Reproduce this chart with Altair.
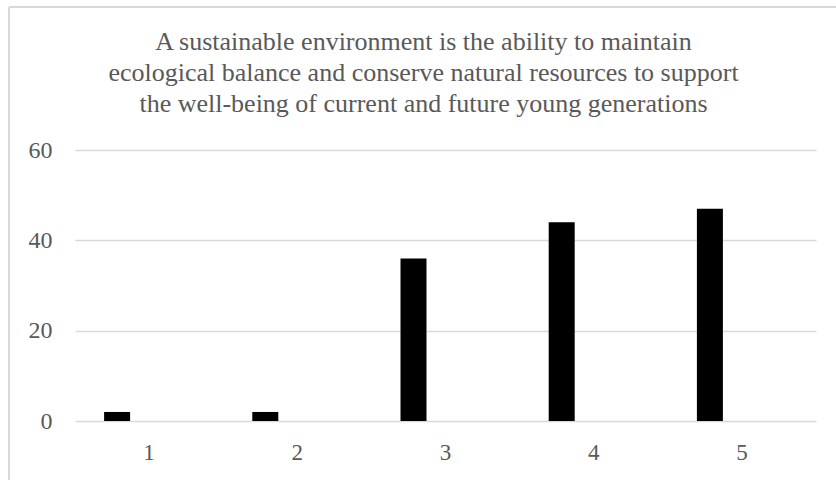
import altair as alt
import pandas as pd

categories = ["1", "2", "3", "4", "5"]
values = [2, 2, 36, 44, 47]

title_lines = [
    "A sustainable environment is the ability to maintain",
    "ecological balance and conserve natural resources to support",
    "the well-being of current and future young generations",
]

df = pd.DataFrame({"category": categories, "value": values})

FONT = "Liberation Serif"
GRAY = "#595959"
GRID = "#d9d9d9"

bars = alt.Chart(df).mark_bar(color="black", width=26, xOffset=-32).encode(
    x=alt.X("category:N", sort=categories, title=None,
            scale=alt.Scale(paddingInner=0, paddingOuter=0),
            axis=alt.Axis(labelAngle=0, domain=False, ticks=False, grid=False,
                          labelPadding=20, labelFont=FONT, labelFontSize=23,
                          labelColor=GRAY)),
    y=alt.Y("value:Q", title=None,
            scale=alt.Scale(domain=[0, 60], nice=False),
            axis=alt.Axis(values=[0, 20, 40, 60], domain=False, ticks=False,
                          grid=True, gridColor=GRID, gridWidth=1.5,
                          labelPadding=23, labelFont=FONT, labelFontSize=24,
                          labelColor=GRAY)),
)

border_v = alt.Chart(df).mark_rule(color=GRID, strokeWidth=2).encode(
    x=alt.value(-66), y=alt.value(-143), y2=alt.value(340)
)
border_h = alt.Chart(df).mark_rule(color=GRID, strokeWidth=2).encode(
    x=alt.value(-66), x2=alt.value(770), y=alt.value(-143)
)

chart = alt.layer(border_v, border_h, bars).properties(
    width=741,
    height=271,
    autosize=alt.AutoSizeParams(type="none"),
    padding={"left": 75, "top": 150, "right": 20, "bottom": 59},
    title=alt.TitleParams(
        text=title_lines, font=FONT, fontSize=26, fontWeight="normal",
        color=GRAY, anchor="middle", lineHeight=31, dx=-22, offset=-111,
    ),
).configure(background="white").configure_view(strokeWidth=0, stroke="transparent")

chart.save("out.html", embed_options={"renderer": "svg", "actions": False})
